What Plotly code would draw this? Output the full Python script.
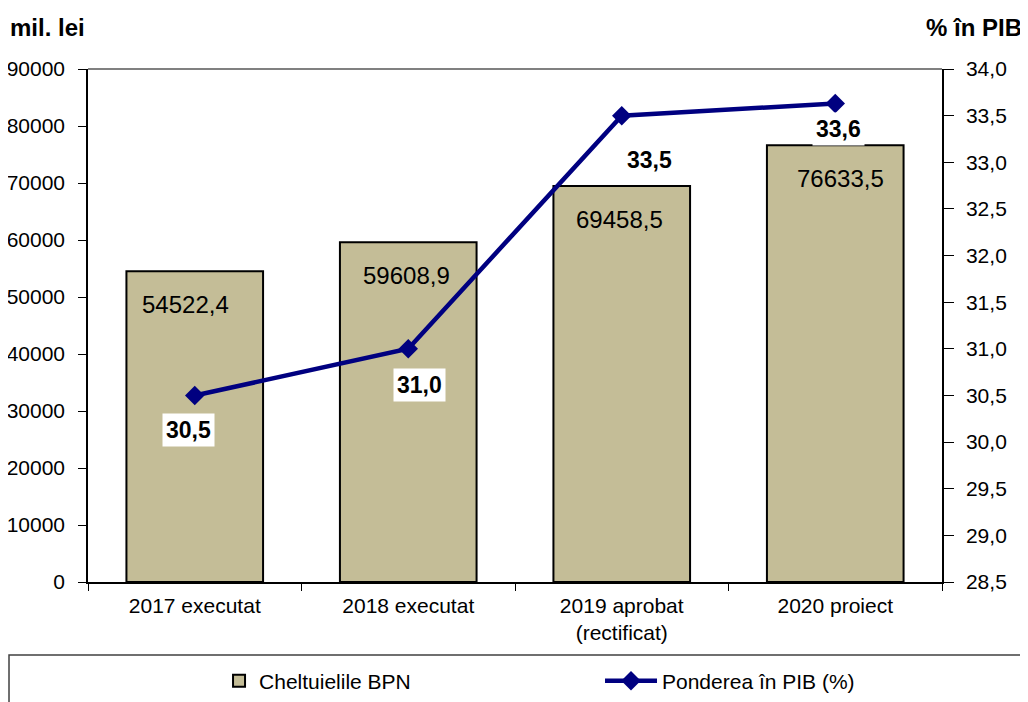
import plotly.graph_objects as go

categories = ["2017 executat", "2018 executat", "2019 aprobat<br>(rectificat)", "2020 proiect"]
cheltuieli = [54522.4, 59608.9, 69458.5, 76633.5]
pondere = [30.5, 31.0, 33.5, 33.63]

BAR = "#c4bd97"
NAVY = "#000080"
FONT = "Liberation Sans, Arial, sans-serif"


def ro(v):
    return f"{v:.1f}".replace(".", ",")


fig = go.Figure()
fig.add_trace(go.Bar(
    x=categories, y=cheltuieli, name="Cheltuielile BPN",
    marker=dict(color=BAR, line=dict(color="black", width=2)),
    width=0.64, legend="legend",
))
fig.add_trace(go.Scatter(
    x=categories, y=pondere, name="Ponderea în PIB (%)", yaxis="y2",
    mode="lines+markers",
    line=dict(color=NAVY, width=4.5),
    marker=dict(symbol="diamond", size=15, color=NAVY),
    legend="legend2",
))

# bar values, just under the top of each bar
bar_dx = [-9, -2, -2, 5]
for c, v, dx in zip(categories, cheltuieli, bar_dx):
    fig.add_annotation(x=c, y=v, text=ro(v), showarrow=False, xshift=dx, yshift=-33,
                       font=dict(size=24, color="black"))

# line labels in white boxes next to the markers
shifts = [(-6, -35), (11, -36), (28, -44), (3, -25)]
for c, v, (dx, dy) in zip(categories, pondere, shifts):
    fig.add_annotation(x=c, y=v, yref="y2", text=f"<b>{ro(v)}</b>", showarrow=False,
                       xshift=dx, yshift=dy, bgcolor="white", borderpad=3,
                       font=dict(size=23, color="black"))

# axis titles
fig.add_annotation(x=0, xref="paper", xanchor="left", y=1.0, yref="paper", yanchor="middle",
                   xshift=-80, yshift=42, text="<b>mil. lei</b>", showarrow=False,
                   font=dict(size=24, color="black"))
fig.add_annotation(x=1, xref="paper", xanchor="right", y=1.0, yref="paper", yanchor="middle",
                   xshift=82, yshift=42, text="<b>% în PIB</b>", showarrow=False,
                   font=dict(size=24, color="black"))

# gray top border of the plot area, frame round the legend
fig.add_shape(type="line", xref="paper", yref="paper", x0=0, x1=1, y0=1, y1=1,
              line=dict(color="#808080", width=2))
fig.add_shape(type="rect", xref="paper", yref="paper", x0=-0.0925, x1=1.2, y0=-0.1423, y1=-0.3,
              line=dict(color="#404040", width=1.5))

axis_common = dict(showline=True, linecolor="black", linewidth=1.5, ticks="outside",
                   tickcolor="black", showgrid=False, zeroline=False, automargin=False,
                   tickfont=dict(size=21, color="black"))

fig.update_layout(
    width=1020, height=694,
    margin=dict(l=80, r=86, t=61, b=120),
    paper_bgcolor="white", plot_bgcolor="white",
    font=dict(family=FONT, size=21, color="black"),
    separators=", ",
    showlegend=True,
    legend=dict(orientation="h", xref="container", yref="container", x=0.2069, xanchor="left",
                y=0.030, yanchor="middle", font=dict(size=21), bgcolor="rgba(0,0,0,0)"),
    legend2=dict(orientation="h", xref="container", yref="container", x=0.5804, xanchor="left",
                 y=0.030, yanchor="middle", itemwidth=52, font=dict(size=21),
                 bgcolor="rgba(0,0,0,0)"),
    xaxis=dict(**axis_common, tickson="boundaries", ticklen=7, ticklabelstandoff=4),
    yaxis=dict(**axis_common, range=[0, 90000], dtick=10000, tickformat="d", ticklen=8,
               ticklabelstandoff=9),
    yaxis2=dict(**axis_common, range=[28.5, 34], dtick=0.5, tickformat=".1f", overlaying="y",
                side="right", ticklen=10, ticklabelstandoff=8),
)

fig.write_html("out.html")
